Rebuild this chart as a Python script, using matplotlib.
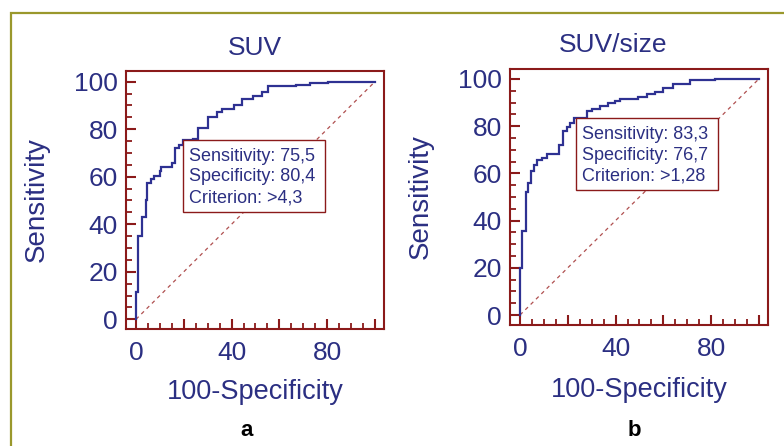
import matplotlib
matplotlib.use("Agg")
import matplotlib.pyplot as plt
from matplotlib.patches import Rectangle
from matplotlib.lines import Line2D
from matplotlib.ticker import MultipleLocator

plt.rcParams['font.family'] = ['Liberation Sans', 'DejaVu Sans']

# ---- data ----
titles = ["SUV", "SUV/size"]
panel_labels = ["a", "b"]

suv_fpr = [0, 0, 0.8, 0.8, 2.4, 2.4, 4.2, 4.2, 4.6, 4.6, 6.1, 6.1, 7.5, 7.5, 10, 10, 10.5, 10.5,
           15.2, 15.2, 16.5, 16.5, 18.2, 18.2, 19.6, 19.6, 23.7, 23.7, 25.8, 25.8, 30.3, 30.3,
           33.8, 33.8, 35.8, 35.8, 41.1, 41.1, 44.5, 44.5, 49.1, 49.1, 52.6, 52.6, 55.4, 55.4,
           67.0, 67.0, 72.8, 72.8, 80.5, 80.5, 100]
suv_tpr = [0, 11.5, 11.5, 35, 35, 43.2, 43.2, 50, 50, 57.5, 57.5, 59, 59, 60.5, 60.5, 62.5, 62.5, 64.3,
           64.3, 65.6, 65.6, 72, 72, 73.5, 73.5, 75.5, 75.5, 76, 76, 80.6, 80.6, 85,
           85, 87.4, 87.4, 88.4, 88.4, 90.2, 90.2, 92.7, 92.7, 94.1, 94.1, 95.8, 95.8, 98,
           98, 98.8, 98.8, 99.6, 99.6, 100, 100]

size_fpr = [0, 0, 1.0, 1.0, 2.6, 2.6, 3.4, 3.4, 4.4, 4.4, 5.7, 5.7, 7.2, 7.2, 9.2, 9.2, 11.4, 11.4,
            16.5, 16.5, 18.1, 18.1, 19.5, 19.5, 21.0, 21.0, 22.8, 22.8, 28.0, 28.0, 30.0, 30.0,
            33.5, 33.5, 36.9, 36.9, 39.7, 39.7, 41.8, 41.8, 49.5, 49.5, 53.0, 53.0, 56.5, 56.5,
            60.0, 60.0, 64.2, 64.2, 71.1, 71.1, 81.6, 81.6, 100]
size_tpr = [0, 19.8, 19.8, 35.7, 35.7, 52, 52, 55.8, 55.8, 61, 61, 63.5, 63.5, 65.5, 65.5, 66.5, 66.5, 68.4,
            68.4, 72, 72, 77.8, 77.8, 79.5, 79.5, 81.5, 81.5, 83.3, 83.3, 86.5, 86.5, 87.3,
            87.3, 88.5, 88.5, 89.8, 89.8, 90.8, 90.8, 91.5, 91.5, 92.4, 92.4, 93.4, 93.4, 94.4,
            94.4, 96.2, 96.2, 97.8, 97.8, 99.5, 99.5, 100, 100]

sensitivity = [75.5, 83.3]
specificity = [80.4, 76.7]
criterion = [">4,3", ">1,28"]

xticks = [0, 20, 40, 60, 80, 100]
xtick_labels = ["0", "", "40", "", "80", ""]
yticks = [0, 20, 40, 60, 80, 100]
ytick_labels = ["0", "20", "40", "60", "80", "100"]

# ---- style ----
NAVY = '#2b2f82'
CURVE = '#2e3192'
DARKRED = '#8b1a1a'
DIAG = '#b05050'
OLIVE = '#9a982c'

W, H = 784, 446
fig = plt.figure(figsize=(W / 100, H / 100), dpi=100)
fig.patch.set_facecolor('white')

# olive frame lines (top and left)
fig.add_artist(Line2D([11 / W, 11 / W, 1.0], [0.0, 1 - 12.5 / H, 1 - 12.5 / H],
                      transform=fig.transFigure, color=OLIVE, lw=1.6, solid_joinstyle='miter'))

boxes = [(126, 71, 384, 329, -4.18, 103.8, -4.08, 104.5, 0.5, 1.062, -0.2725, 0.315),
         (510, 69, 768, 325, -4.18, 103.8, -4.23, 104.2, 0.399, 1.0676, -0.280, 0.8087)]
curves = [(suv_fpr, suv_tpr), (size_fpr, size_tpr)]

for i, (l, t, r, b, x0, x1, y0, y1, tx, ty, xly, plx) in enumerate(boxes):
    ax = fig.add_axes([l / W, 1 - b / H, (r - l) / W, (b - t) / H])
    ax.set_xlim(x0, x1)
    ax.set_ylim(y0, y1)
    fpr, tpr = curves[i]
    ax.plot([0, 100], [0, 100], color=DIAG, lw=0.9, dashes=(3, 3))
    ax.plot(fpr, tpr, color=CURVE, lw=1.6, solid_joinstyle='miter', zorder=3)

    for s in ax.spines.values():
        s.set_color(DARKRED)
        s.set_linewidth(1.5)

    ax.set_xticks(xticks)
    ax.set_xticklabels(xtick_labels)
    ax.set_yticks(yticks)
    ax.set_yticklabels(ytick_labels)
    ax.xaxis.set_minor_locator(MultipleLocator(5))
    ax.yaxis.set_minor_locator(MultipleLocator(5))
    ax.tick_params(which='both', direction='in', color=DARKRED, labelcolor=NAVY,
                   labelsize=19, top=False, right=False)
    ax.tick_params(which='major', length=7.2, width=1.5)
    ax.tick_params(which='minor', length=4.3, width=1.3)
    ax.tick_params(axis='y', which='major', pad=5.8)
    ax.tick_params(axis='x', which='major', pad=9.0)

    ax.text(tx, ty, titles[i], transform=ax.transAxes, ha='center', va='baseline',
            fontsize=19, color=NAVY)
    ax.text(-0.345, 0.5, "Sensitivity", transform=ax.transAxes, ha='center', va='center',
            rotation=90, fontsize=20, color=NAVY)
    ax.text(0.5, xly, "100-Specificity", transform=ax.transAxes, ha='center', va='baseline',
            fontsize=19.5, color=NAVY)

    # criterion box anchored at the operating point
    px, py = 100 - specificity[i], sensitivity[i]
    ax.add_patch(Rectangle((px, py - 30.3), 59.5, 30.3, facecolor='white',
                           edgecolor=DARKRED, lw=1.0, zorder=4))
    txt = (f"Sensitivity: {sensitivity[i]:.1f}\nSpecificity: {specificity[i]:.1f}\n"
           f"Criterion: {criterion[i]}").replace('.', ',')
    ax.annotate(txt, xy=(px, py), xytext=(4.5, -5.5), textcoords='offset points',
                ha='left', va='top', fontsize=13, color=NAVY, linespacing=1.3, zorder=5)

    fig.text(plx, 1 - 436 / H, panel_labels[i], ha='center', va='baseline',
             fontsize=16, fontweight='bold', color='black')

fig.savefig("out.png", dpi=100)
